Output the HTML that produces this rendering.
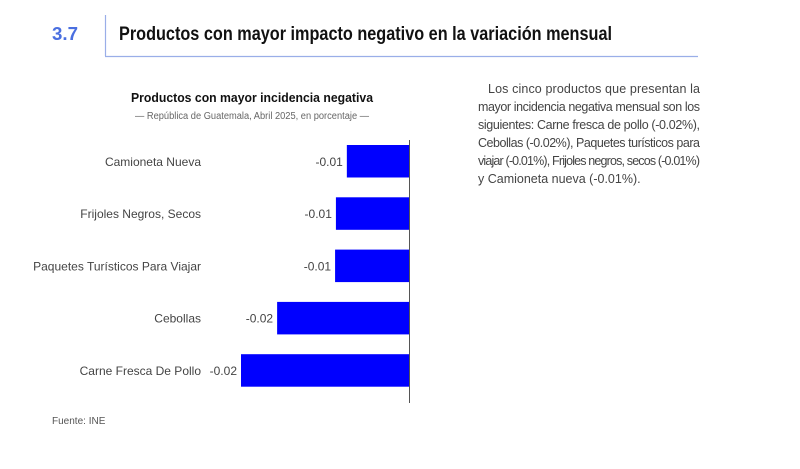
<!DOCTYPE html>
<html><head><meta charset="utf-8"><style>
body{margin:0;background:#fff}
svg{display:block}
text{font-family:"Liberation Sans Narrow","Liberation Sans",sans-serif}
</style></head><body>
<svg width="800" height="469" viewBox="0 0 800 469">
<text x="52" y="40" font-size="18" font-weight="bold" fill="#4a6fe0" textLength="26" lengthAdjust="spacingAndGlyphs">3.7</text>
<line x1="105.5" y1="15" x2="105.5" y2="56" stroke="#9aaee8" stroke-width="1.2"/>
<line x1="105" y1="56.5" x2="698" y2="56.5" stroke="#9aaee8" stroke-width="1.2"/>
<text x="119" y="40" font-size="19" font-weight="bold" fill="#111" textLength="493" lengthAdjust="spacingAndGlyphs">Productos con mayor impacto negativo en la variación mensual</text>

<text x="252" y="102" text-anchor="middle" font-size="13" font-weight="bold" fill="#111" textLength="242" lengthAdjust="spacingAndGlyphs">Productos con mayor incidencia negativa</text>
<text x="252" y="119" text-anchor="middle" font-size="10" fill="#666" textLength="234" lengthAdjust="spacingAndGlyphs">— República de Guatemala, Abril 2025, en porcentaje —</text>

<g id="chart"></g>

<text x="52" y="424" font-size="10" fill="#555">Fuente: INE</text>

<g font-size="12.5" fill="#444">
<text x="488" y="93" textLength="212" lengthAdjust="spacing">Los cinco productos que presentan la</text>
<text x="478" y="111" textLength="222" lengthAdjust="spacing">mayor incidencia negativa mensual son los</text>
<text x="478" y="129" textLength="222" lengthAdjust="spacing">siguientes: Carne fresca de pollo (-0.02%),</text>
<text x="478" y="147" textLength="222" lengthAdjust="spacing">Cebollas (-0.02%), Paquetes turísticos para</text>
<text x="478" y="165" textLength="222" lengthAdjust="spacing">viajar (-0.01%), Frijoles negros, secos (-0.01%)</text>
<text x="478" y="183">y Camioneta nueva (-0.01%).</text>
</g>
</svg>
<script>
const categories=["Camioneta Nueva","Frijoles Negros, Secos","Paquetes Turísticos Para Viajar","Cebollas","Carne Fresca De Pollo"];
const values=[-0.0074,-0.0087,-0.0088,-0.0157,-0.0200];
const valueLabels=["-0.01","-0.01","-0.01","-0.02","-0.02"];
const NS="http://www.w3.org/2000/svg";
const g=document.getElementById('chart');
const x0=409, scale=8400;
function xPos(v){return x0+v*scale;}
function yBand(i){return 145+i*52.3;}
const bh=32.5;
function mk(t,a){const e=document.createElementNS(NS,t);for(const k in a)e.setAttribute(k,a[k]);g.appendChild(e);return e;}
categories.forEach((c,i)=>{
  const y=yBand(i), x=xPos(values[i]);
  const r=mk('rect',{x:x,y:y,width:x0-x,height:bh,fill:'#0000ff'});
  
  
  const l=mk('text',{x:x-4,y:y+bh/2+4.5,'text-anchor':'end','font-size':'12',fill:'#444'});
  l.textContent=valueLabels[i];
  
  
  const cl=mk('text',{x:201,y:y+bh/2+4.5,'text-anchor':'end','font-size':'12',fill:'#444'});
  cl.textContent=c;
  
  
});
const ax=mk('line',{x1:x0+0.5,y1:140,x2:x0+0.5,y2:403,stroke:'#555','stroke-width':1});


</script>
</body></html>
